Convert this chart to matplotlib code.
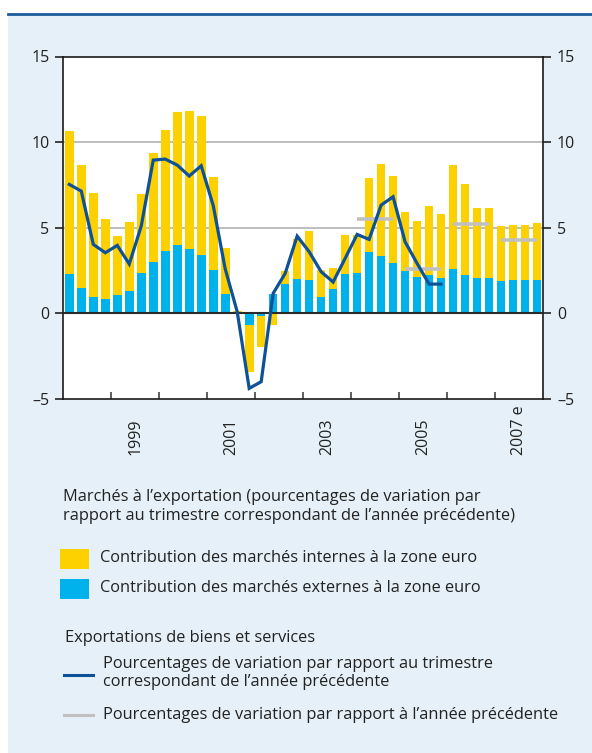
import numpy as np
import matplotlib
matplotlib.use('Agg')
import matplotlib.pyplot as plt
from matplotlib.patches import Rectangle
from matplotlib.lines import Line2D
import matplotlib.transforms as mtransforms

plt.rcParams['font.family'] = ['Open Sans', 'DejaVu Sans']

# ---------------- data ----------------
first_year = 1998
last_year = 2007
# Contribution of euro-area internal markets (yellow), quarterly 1998Q1-2007Q4
internal = [8.36, 7.16, 6.05, 4.67, 3.42, 4.01, 4.59, 6.34,
            7.06, 7.75, 8.09, 8.15, 5.43, 2.66, 0.15, -2.72,
            -1.82, -0.68, 0.76, 2.36, 2.86, 1.58, 1.23, 2.27,
            2.22, 4.32, 5.37, 5.08, 3.44, 3.27, 4.02, 3.74,
            6.07, 5.31, 4.09, 4.09, 3.21, 3.21, 3.21, 3.32]
# Contribution of external markets (light blue)
external = [2.28, 1.50, 0.97, 0.84, 1.09, 1.32, 2.37, 3.02,
            3.64, 3.99, 3.75, 3.40, 2.53, 1.15, 0.00, -0.68,
            -0.14, 1.15, 1.71, 2.00, 1.95, 0.95, 1.42, 2.30,
            2.35, 3.58, 3.35, 2.94, 2.47, 2.12, 2.24, 2.06,
            2.59, 2.24, 2.06, 2.06, 1.89, 1.95, 1.95, 1.95]
# Exports, quarterly y-o-y growth (1998Q1-2005Q4)
exports_q = [7.53, 7.14, 4.03, 3.54, 3.97, 2.88, 5.10, 8.95,
             9.01, 8.66, 8.02, 8.62, 6.30, 2.60, 0.10, -4.38,
             -3.99, 1.17, 2.33, 4.51, 3.60, 2.43, 1.83, 3.21,
             4.61, 4.32, 6.32, 6.81, 4.18, 2.92, 1.71, 1.71]
# Exports, annual growth
annual_years = [2004, 2005, 2006, 2007]
exports_a = [5.51, 2.61, 5.21, 4.28]
label_years = [1999, 2001, 2003, 2005, 2007]
label_texts = ['1999', '2001', '2003', '2005', '2007 e']
yticks = [-5, 0, 5, 10, 15]

# ---------------- figure ----------------
W, H = 592, 753
fig = plt.figure(figsize=(W / 100, H / 100), dpi=100)
fig.patch.set_facecolor('white')

def fx(px):
    return px / W

def fy(py):
    return 1 - py / H

fig.patches.append(Rectangle((fx(8), 0), 1 - fx(8), fy(15), transform=fig.transFigure,
                             facecolor='#e5f0f8', edgecolor='none', zorder=-10))
fig.lines.append(Line2D([fx(8), 1], [fy(14), fy(14)], transform=fig.transFigure,
                        color='#1b5c9c', lw=2.0))

ax = fig.add_axes([fx(63.3), fy(399), fx(543) - fx(63.3), fy(56.5) - fy(399)])
ax.set_zorder(5)
ax.set_facecolor('white')

yellow = '#fdd000'
cyan = '#00b2ec'
navy = '#0d5296'
grey = '#c0c0c0'

n = len(internal)
x = np.arange(n)
ext = np.array(external)
intl = np.array(internal)
bottom_int = np.where(np.sign(intl) == np.sign(ext), ext, 0.0)

ax.bar(x, ext, width=0.72, color=cyan, zorder=2, linewidth=0)
ax.bar(x, intl, bottom=bottom_int, width=0.72, color=yellow, zorder=2, linewidth=0)

for g in (5, 10):
    ax.axhline(g, color='#b9b9bb', lw=1.3, zorder=1)
ax.axhline(0, color='#2a2a2a', lw=1.5, zorder=3)

ax.plot(np.arange(len(exports_q)), exports_q, color=navy, lw=2.3, zorder=5,
        solid_joinstyle='miter')

for yr, v in zip(annual_years, exports_a):
    i0 = (yr - first_year) * 4
    ax.hlines(v, i0, i0 + 3, color=grey, lw=2.6, zorder=4)

ax.set_xlim(-0.5, n - 0.5)
ax.set_ylim(-5, 15)
ax.set_yticks(yticks)
ax.set_yticklabels([str(v).replace('-', '\u2013') for v in yticks])
ax.set_xticks(np.arange(3.5, n - 1, 4))
ax.set_xticklabels([])
ax.tick_params(axis='x', direction='in', length=5, width=1.2, color='#444444')
ax.tick_params(axis='y', direction='out', length=6, width=1.2, color='#222222',
               left=True, right=True, labelleft=True, labelright=True,
               labelsize=11.5, labelcolor='#222222', pad=4)
for s in ax.spines.values():
    s.set_color('#1a1a1a')
    s.set_linewidth(1.2)

trans = mtransforms.blended_transform_factory(ax.transData, fig.transFigure)
for yr, t in zip(label_years, label_texts):
    xc = (yr - first_year) * 4 + 1.5
    ax.text(xc, fy(455), t, transform=trans, rotation=90, ha='center', va='bottom',
            fontsize=11.5, color='#222222')

# ---------------- legend ----------------
tc = '#222222'
fs = 11.8
fig.text(fx(63), fy(497), "Marchés à l\u2019exportation (pourcentages de variation par",
         fontsize=fs, color=tc, va='center')
fig.text(fx(63), fy(516), "rapport au trimestre correspondant de l\u2019année précédente)",
         fontsize=fs, color=tc, va='center')

fig.patches.append(Rectangle((fx(60), fy(569)), fx(29), 20 / H, transform=fig.transFigure,
                             facecolor=yellow, edgecolor='none'))
fig.text(fx(100), fy(558), "Contribution des marchés internes à la zone euro",
         fontsize=fs, color=tc, va='center')
fig.patches.append(Rectangle((fx(60), fy(599)), fx(29), 20 / H, transform=fig.transFigure,
                             facecolor=cyan, edgecolor='none'))
fig.text(fx(100), fy(588), "Contribution des marchés externes à la zone euro",
         fontsize=fs, color=tc, va='center')

fig.text(fx(65), fy(638), "Exportations de biens et services",
         fontsize=fs, color=tc, va='center')
fig.lines.append(Line2D([fx(64), fx(93)], [fy(675), fy(675)], transform=fig.transFigure,
                        color=navy, lw=2.2))
fig.text(fx(103), fy(663.5), "Pourcentages de variation par rapport au trimestre",
         fontsize=fs, color=tc, va='center')
fig.text(fx(103), fy(682.5), "correspondant de l\u2019année précédente",
         fontsize=fs, color=tc, va='center')
fig.lines.append(Line2D([fx(64), fx(93)], [fy(715), fy(715)], transform=fig.transFigure,
                        color=grey, lw=2.2))
fig.text(fx(103), fy(715), "Pourcentages de variation par rapport à l\u2019année précédente",
         fontsize=fs, color=tc, va='center')

fig.savefig('out.png', dpi=100, facecolor=fig.get_facecolor())
